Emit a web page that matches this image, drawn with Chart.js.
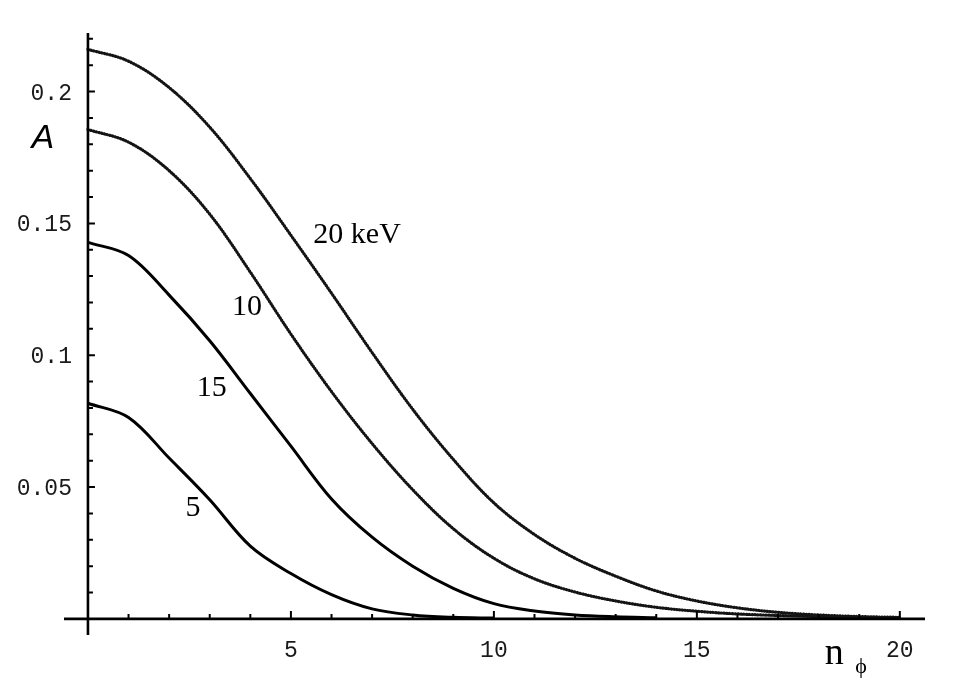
<!DOCTYPE html>
<html>
<head>
<meta charset="utf-8">
<script src="https://cdn.jsdelivr.net/npm/chart.js@4.4.0/dist/chart.umd.min.js"></script>
<style>
  html, body { margin: 0; padding: 0; background: #fff; }
  #wrap { width: 975px; height: 681px; position: relative; }
</style>
</head>
<body>
<div id="wrap"><canvas id="c"></canvas></div>
<script>
// Toroidal mode number n_phi and the amplitude A for each beam energy
const nPhi = [0, 1, 2, 3, 4, 5, 6, 7, 8, 9, 10, 11, 12, 13, 14, 15, 16, 17, 18, 19, 20];
const amp20keV = [0.216, 0.2115, 0.2015, 0.1865, 0.167, 0.1455, 0.1235, 0.1010, 0.0795, 0.0605, 0.0440,
                  0.0320, 0.0230, 0.0162, 0.0106, 0.0068, 0.0042, 0.0025, 0.0015, 0.0009, 0.0006];
const amp10keV = [0.1856, 0.1808, 0.1700, 0.1535, 0.1315, 0.1080, 0.0862, 0.0665, 0.0490, 0.0342, 0.0230,
                  0.0152, 0.0102, 0.0068, 0.0044, 0.0029, 0.0019, 0.0013, 0.0009, 0.0006, 0.0005];
const amp15keV = [0.1428, 0.1378, 0.1228, 0.1055, 0.0855, 0.0655, 0.0455, 0.0310, 0.0200, 0.0116, 0.0058,
                  0.0030, 0.0015, 0.0008, 0.0004];
const amp5keV  = [0.0818, 0.0764, 0.0610, 0.0452, 0.0276, 0.0172, 0.0092, 0.0038, 0.0015, 0.0006, 0.0003];

const curveNames = ['20 keV', '10', '15', '5'];

const xTickValues = [5, 10, 15, 20];
const xTickLabels = ['5', '10', '15', '20'];
const yTickValues = [0.05, 0.1, 0.15, 0.2];
const yTickLabels = ['0.05', '0.1', '0.15', '0.2'];

// where each curve's name sits, in data units (n_phi, A)
const curveLabelAnchors = [[6.63, 0.1455], [3.92, 0.1182], [3.05, 0.0875], [2.59, 0.0420]];

const toPoints = arr => arr.map((v, i) => ({ x: nPhi[i], y: v }));

const beaded = {
  borderColor: '#141414', borderWidth: 3.2, borderDash: [0.5, 2.3], borderCapStyle: 'round',
  pointRadius: 0, fill: false, tension: 0.35
};
const solid = {
  borderColor: '#000', borderWidth: 3, pointRadius: 0, fill: false,
  tension: 0.35, borderJoinStyle: 'round'
};

// axes, inward tick marks, tick labels and the text annotations
const axesPlugin = {
  id: 'mathematicaAxes',
  afterDatasetsDraw(chart) {
    const ctx = chart.ctx;
    const xs = chart.scales.x, ys = chart.scales.y;
    const x0 = xs.getPixelForValue(0), y0 = ys.getPixelForValue(0);
    ctx.save();
    ctx.strokeStyle = '#000';
    ctx.fillStyle = '#000';
    ctx.lineWidth = 2.6;
    ctx.lineCap = 'butt';
    // axis lines
    ctx.beginPath();
    ctx.moveTo(xs.left, y0); ctx.lineTo(xs.right, y0);
    ctx.moveTo(x0, ys.top); ctx.lineTo(x0, ys.bottom);
    ctx.stroke();
    // x ticks every unit, major every 5
    ctx.lineWidth = 2;
    ctx.beginPath();
    for (let n = 1; n <= 20; n++) {
      const px = xs.getPixelForValue(n);
      const len = (n % 5 === 0) ? 8 : 5;
      ctx.moveTo(px, y0); ctx.lineTo(px, y0 - len);
    }
    // y ticks every 0.01, major every 0.05
    for (let k = 1; k <= 22; k++) {
      const py = ys.getPixelForValue(k / 100);
      const len = (k % 5 === 0) ? 7 : 5;
      ctx.moveTo(x0, py); ctx.lineTo(x0 + len, py);
    }
    ctx.stroke();
    // tick labels
    ctx.fillStyle = '#1a1a1a';
    ctx.font = '23px "Liberation Mono", monospace';
    ctx.textAlign = 'center';
    ctx.textBaseline = 'middle';
    xTickValues.forEach((v, i) => ctx.fillText(xTickLabels[i], xs.getPixelForValue(v), y0 + 32));
    ctx.textAlign = 'right';
    yTickValues.forEach((v, i) => ctx.fillText(yTickLabels[i], x0 - 16, ys.getPixelForValue(v) + 2));
    // axis titles
    ctx.fillStyle = '#000';
    ctx.textAlign = 'center';
    ctx.font = 'italic 34px "Liberation Sans", Arial, sans-serif';
    ctx.fillText('A', x0 - 45, ys.getPixelForValue(0.182));
    ctx.textAlign = 'left';
    ctx.textBaseline = 'alphabetic';
    ctx.font = '38px "Liberation Serif", "Times New Roman", serif';
    ctx.fillText('n', xs.getPixelForValue(18.15), y0 + 45);
    ctx.font = '22px "Liberation Serif", "Times New Roman", serif';
    ctx.fillText('\u03d5', xs.getPixelForValue(18.9), y0 + 54);
    // curve names
    ctx.textAlign = 'center';
    ctx.textBaseline = 'middle';
    ctx.font = '30px "Liberation Serif", "Times New Roman", serif';
    curveNames.forEach((name, i) => {
      const [n, a] = curveLabelAnchors[i];
      ctx.fillText(name, xs.getPixelForValue(n), ys.getPixelForValue(a));
    });
    ctx.restore();
  }
};

new Chart(document.getElementById('c'), {
  type: 'line',
  data: {
    datasets: [
      Object.assign({ label: curveNames[0], data: toPoints(amp20keV) }, beaded),
      Object.assign({ label: curveNames[1], data: toPoints(amp10keV) }, beaded),
      Object.assign({ label: curveNames[2], data: toPoints(amp15keV) }, solid),
      Object.assign({ label: curveNames[3], data: toPoints(amp5keV) }, solid)
    ]
  },
  options: {
    responsive: true,
    maintainAspectRatio: false,
    animation: false,
    layout: { padding: { left: 64, right: 50, top: 33, bottom: 46 } },
    scales: {
      x: { type: 'linear', display: false, min: -0.59, max: 20.62 },
      y: { type: 'linear', display: false, min: -0.0061, max: 0.2222 }
    },
    plugins: { legend: { display: false }, tooltip: { enabled: false } }
  },
  plugins: [axesPlugin]
});
</script>
</body>
</html>
